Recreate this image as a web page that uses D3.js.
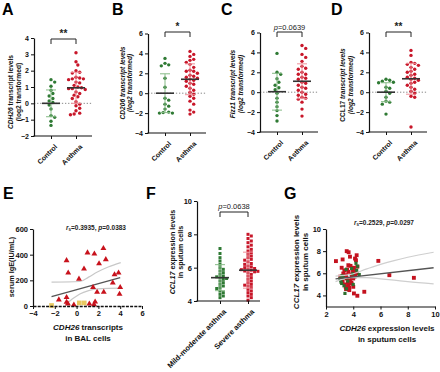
<!DOCTYPE html>
<html><head><meta charset="utf-8">
<script src="https://cdn.jsdelivr.net/npm/d3@7"></script>
<style>body{margin:0;background:#fff}svg{display:block}text{font-family:"Liberation Sans",Arial,sans-serif}</style>
</head><body><svg id="c" width="440" height="372"></svg>
<script>
// ---------- DATA ----------
const groupsAD = ["Control", "Asthma"];
const aControl = [1.45, 1.3, 1.05, 0.8, 0.6, 0.45, 0.3, 0.15, 0.05, -0.1, -0.35, -0.75, -0.85, -1.1, -1.35];
const aAsthma = [3.1, 2.55, 2.35, 2.0, 1.9, 1.85, 1.6, 1.55, 1.5, 1.5, 1.45, 1.3, 1.25, 1.1, 1.0, 0.95, 0.9, 0.9, 0.85, 0.7, 0.6, 0.5, 0.4, 0.3, 0.1, -0.05, -0.15, -0.3, -0.45, -0.6, -0.65, -0.7];
const aMeans = [0, 0.95], aSDs = [0.82, 0.95];
const bControl = [3.5, 3.0, 2.85, 2.75, 1.5, 0.6, -0.5, -0.7, -1.1, -1.3, -1.6, -1.9, -2.0, -2.0, -1.95];
const bAsthma = [4.2, 3.9, 3.7, 3.4, 3.3, 3.1, 2.9, 2.6, 2.3, 2.2, 2.2, 2.0, 1.8, 1.7, 1.6, 1.5, 1.4, 1.3, 1.2, 1.0, 0.9, 0.7, 0.5, 0.3, 0.1, -0.1, -0.3, -0.5, -0.8, -1.1, -1.7, -1.9, -2.1];
const bMeans = [0, 1.4], bSDs = [1.95, 1.55];
const cControl = [3.9, 2.0, 1.8, 1.35, 1.0, 0.7, 0.45, 0.25, -0.1, -0.6, -1.0, -1.45, -1.85, -2.35, -2.9];
const cAsthma = [4.7, 4.4, 3.8, 3.5, 3.1, 2.6, 2.4, 2.3, 2.0, 1.8, 1.8, 1.5, 1.4, 1.3, 1.0, 0.9, 0.7, 0.5, 0.4, 0.2, 0.0, -0.2, -0.3, -0.5, -0.6, -0.7, -1.0, -1.7, -2.4];
const cMeans = [0.05, 1.1], cSDs = [1.85, 1.75];
const dControl = [1.3, 1.2, 1.1, 1.0, 0.95, 0.5, 0.4, 0.1, -0.1, -0.5, -0.9, -1.0, -1.2, -2.2];
const dAsthma = [4.2, 3.7, 3.0, 2.9, 2.8, 2.7, 2.5, 2.3, 2.1, 2.0, 1.8, 1.7, 1.5, 1.4, 1.3, 1.2, 1.0, 0.9, 0.7, 0.5, 0.3, 0.1, -0.1, -0.4, -0.5, -3.5];
const dMeans = [0, 1.35], dSDs = [0.95, 1.55];
const ticksA = [-2, -1, 0, 1, 2, 3, 4];
const ticksBCD = [-4, -2, 0, 2, 4, 6];

const eAsthmaX = [-0.92, -0.77, 1.0, 1.63, 2.46, 2.68, 2.06, 0.68, 0.22, 3.48, 3.85, 3.32, 1.51, 4.0, 1.88, 2.49, 3.94, -1.63, -0.92, -0.92, -0.8, -0.25, 1.17, 1.6, 1.7];
const eAsthmaY = [351, 254, 411, 403, 445, 359, 327, 286, 207, 241, 254, 176, 141, 141, 105, 105, 89, 45, 63, 26, 14, 5, 13, 8, 29];
const eControlX = [-2.3, 0.25, 0.7];
const eControlY = [4, 24, 24];
const eFitX = [-2.3, 4.0], eFitY = [73, 222];
const eUpperX = [-2.3, 0.3, 1.1, 1.9, 2.9, 4.05], eUpperY = [186, 191, 225, 265, 304, 338];
const eLowerX = [-1.0, -0.3, 0.3, 1.1, 1.9, 3.0, 4.05], eLowerY = [12, 60, 94, 120, 134, 138, 139];
const eXTicks = [-4, -2, 0, 2, 4, 6], eYTicks = [0, 200, 400, 600];

const groupsF = ["Mild-moderate asthma", "Severe asthma"];
const fMild = [7.15, 6.85, 6.6, 6.4, 6.2, 6.0, 5.9, 5.8, 5.7, 5.6, 5.5, 5.45, 5.4, 5.35, 5.3, 5.2, 5.1, 5.0, 4.9, 4.8, 4.75, 4.6, 4.5, 4.4, 4.3, 4.2];
const fSevere = [8.0, 7.9, 7.75, 7.6, 7.5, 7.35, 7.25, 7.1, 7.0, 6.9, 6.8, 6.7, 6.6, 6.5, 6.45, 6.35, 6.25, 6.2, 6.1, 6.05, 6.0, 5.95, 5.9, 5.88, 5.85, 5.8, 5.78, 5.75, 5.7, 5.6, 5.5, 5.4, 5.3, 5.2, 5.1, 5.0, 4.95, 4.9, 4.8, 4.7, 4.6, 4.5, 4.4, 4.3, 4.2, 4.05];
const fMeans = [5.4, 5.85], fSDs = [0.78, 1.08];
const fTicks = [4, 6, 8, 10];

const gRedX = [2.73, 3.22, 3.52, 3.66, 3.76, 4.13, 4.25, 4.2, 3.15, 3.64, 3.8, 4.05, 4.3, 3.27, 3.47, 3.64, 3.88, 4.0, 4.13, 4.25, 3.52, 3.76, 4.0, 3.22, 3.39, 3.64, 3.88, 4.0, 3.47, 3.71, 4.05, 4.3, 4.81, 5.84, 6.65, 8.45, 3.35, 3.55, 3.95, 4.1, 3.3, 3.6, 3.9, 3.7, 3.45, 4.15, 3.05, 3.85];
const gRedY = [7.1, 7.25, 8.0, 7.9, 7.5, 7.33, 7.63, 7.18, 6.5, 6.73, 6.67, 6.5, 6.6, 5.98, 5.83, 6.13, 5.9, 6.07, 5.83, 5.98, 5.53, 5.38, 5.53, 5.23, 4.99, 4.93, 5.08, 4.78, 4.57, 4.48, 4.18, 3.97, 4.33, 7.12, 5.83, 5.59, 6.25, 6.35, 6.3, 5.7, 5.65, 5.2, 5.6, 4.7, 4.75, 6.2, 5.7, 5.15];
const gGreenX = [3.27, 3.08, 3.15, 3.32, 3.39, 3.47, 4.25, 4.32, 3.88, 3.03, 3.17, 4.0, 4.44, 3.6, 3.95, 4.2, 3.1, 3.5];
const gGreenY = [5.59, 5.38, 5.08, 4.87, 4.18, 6.34, 6.28, 6.64, 6.43, 5.53, 5.77, 4.99, 5.89, 5.3, 5.95, 6.9, 5.2, 4.6];
const gFitX = [2.7, 9.9], gFitY = [5.5, 6.5];
const gUpperX = [2.7, 3.8, 5, 6, 7, 8, 9.9], gUpperY = [5.75, 5.9, 6.4, 6.8, 7.15, 7.45, 7.9];
const gLowerX = [2.7, 3.8, 5, 6, 7, 8, 9.9], gLowerY = [5.25, 5.6, 5.6, 5.5, 5.38, 5.25, 5.05];
const gXTicks = [2, 4, 6, 8, 10], gYTicks = [4, 6, 8, 10];

// ---------- STYLE ----------
const GREEN = "#2f7a34", RED = "#c8172a", LGREEN = "#86bb86", LRED = "#ee8f98";
const svg = d3.select("#c");
const fmtInt = d3.format("d");

function styleAxis(g, fs) {
  g.select(".domain").attr("stroke", "#111").attr("stroke-width", 1.2);
  g.selectAll(".tick line").attr("stroke", "#111").attr("stroke-width", 1);
  g.selectAll(".tick text").attr("font-size", fs).attr("font-weight", "bold").attr("fill", "#111").attr("font-family", "Liberation Sans, Arial, sans-serif");
}
function title(t, x, y) {
  svg.append("text").attr("x", x).attr("y", y).attr("font-size", 16).attr("font-weight", "bold").text(t);
}
function rotLabel(x, y, parts, fs, weight) {
  const t = svg.append("text").attr("transform", `translate(${x},${y}) rotate(-90)`)
    .attr("text-anchor", "middle").attr("font-size", fs).attr("font-weight", weight || "bold").attr("fill", "#111");
  parts.forEach(p => t.append("tspan").attr("font-style", p[1] ? "italic" : "normal").text(p[0]));
}
function hLabel(x, y, parts, fs) {
  const t = svg.append("text").attr("x", x).attr("y", y).attr("text-anchor", "middle")
    .attr("font-size", fs).attr("font-weight", "bold").attr("fill", "#111");
  parts.forEach(p => t.append("tspan").attr("font-style", p[1] ? "italic" : "normal").text(p[0]));
}
function swarm(vals, y, cx, d) {
  const placed = [];
  const sorted = vals.slice().sort((a, b) => b - a);
  sorted.forEach(v => {
    const py = y(v);
    for (let k = 0; k < 200; k++) {
      const off = k === 0 ? 0 : (k % 2 ? 1 : -1) * Math.ceil(k / 2) * d * 0.5;
      const px = cx + off;
      if (placed.every(p => (p.x - px) ** 2 + (p.y - py) ** 2 >= d * d)) { placed.push({ x: px, y: py }); break; }
    }
  });
  return placed;
}
function columnPanel(cfg) {
  const y = d3.scaleLinear().domain(cfg.domain).range([cfg.yBot, cfg.yTop]);
  const x = d3.scalePoint().domain(cfg.groups).range([cfg.x0 + cfg.p0, cfg.x0 + cfg.p1]);
  const xEnd = cfg.x0 + cfg.w;
  if (cfg.refLine !== undefined) {
    svg.append("line").attr("x1", cfg.x0).attr("x2", xEnd).attr("y1", y(cfg.refLine)).attr("y2", y(cfg.refLine))
      .attr("stroke", "#888").attr("stroke-width", 1).attr("stroke-dasharray", "1.3,1.8");
  }
  cfg.data.forEach((vals, i) => {
    const cx = x(cfg.groups[i]);
    const pts = swarm(vals, y, cx, cfg.d);
    const g = svg.append("g");
    if (cfg.square) {
      g.selectAll("rect").data(pts).join("rect").attr("x", p => p.x - cfg.r).attr("y", p => p.y - cfg.r)
        .attr("width", cfg.r * 2).attr("height", cfg.r * 2).attr("fill", cfg.colors[i]);
    } else {
      g.selectAll("circle").data(pts).join("circle").attr("cx", p => p.x).attr("cy", p => p.y).attr("r", cfg.r).attr("fill", cfg.colors[i]);
    }
    const m = cfg.means[i], s = cfg.sds[i];
    const eb = svg.append("g").attr("stroke", cfg.light[i]).attr("stroke-width", 1);
    eb.append("line").attr("x1", cx).attr("x2", cx).attr("y1", y(m - s)).attr("y2", y(m + s));
    eb.append("line").attr("x1", cx - 5).attr("x2", cx + 5).attr("y1", y(m + s)).attr("y2", y(m + s));
    eb.append("line").attr("x1", cx - 5).attr("x2", cx + 5).attr("y1", y(m - s)).attr("y2", y(m - s));
    svg.append("line").attr("x1", cx - 9).attr("x2", cx + 9).attr("y1", y(m)).attr("y2", y(m))
      .attr("stroke", "#333").attr("stroke-width", 1.6);
  });
  const ya = svg.append("g").attr("transform", `translate(${cfg.x0},0)`)
    .call(d3.axisLeft(y).tickValues(cfg.ticks).tickFormat(fmtInt).tickSize(3).tickSizeOuter(0).tickPadding(2));
  styleAxis(ya, cfg.fs);
  svg.append("line").attr("x1", cfg.x0 - 0.6).attr("x2", xEnd).attr("y1", cfg.yBot).attr("y2", cfg.yBot)
    .attr("stroke", "#111").attr("stroke-width", 1.2);
  const xa = svg.append("g").attr("transform", `translate(0,${cfg.yBot})`)
    .call(d3.axisBottom(x).tickSize(3).tickSizeOuter(0));
  xa.select(".domain").remove();
  styleAxis(xa, cfg.fs);
  xa.selectAll(".tick text").attr("text-anchor", "end").attr("dy", 0).attr("dx", 0)
    .attr("transform", "translate(2,7) rotate(-45)");
  if (cfg.sig) {
    const x1 = x(cfg.groups[0]), x2 = x(cfg.groups[1]), by = cfg.bracketY;
    svg.append("path").attr("d", `M${x1},${by + 5}V${by}H${x2}V${by + 5}`).attr("fill", "none")
      .attr("stroke", "#222").attr("stroke-width", 1);
    const t = svg.append("text").attr("x", (x1 + x2) / 2).attr("y", by - cfg.sigDy).attr("text-anchor", "middle")
      .attr("font-size", cfg.sigFs).attr("font-weight", cfg.sigBold ? "bold" : "normal").attr("fill", "#222");
    if (cfg.sig.startsWith("p")) {
      t.append("tspan").attr("font-style", "italic").text("p");
      t.append("tspan").text(cfg.sig.slice(1));
    } else t.text(cfg.sig);
  }
}

// ---------- PANELS A-D ----------
const adBase = { groups: groupsAD, p0: 17, p1: 42, w: 58, r: 1.7, d: 3.7, fs: 7, colors: [GREEN, RED], light: [LGREEN, LRED], refLine: 0, sigFs: 10, sigDy: 2, sigBold: true };
columnPanel(Object.assign({}, adBase, { x0: 34, yTop: 38, yBot: 136, domain: [-2, 4], ticks: ticksA, data: [aControl, aAsthma], means: aMeans, sds: aSDs, sig: "**", bracketY: 39 }));
columnPanel(Object.assign({}, adBase, { x0: 148, yTop: 33.5, yBot: 133, domain: [-4, 6], ticks: ticksBCD, data: [bControl, bAsthma], means: bMeans, sds: bSDs, sig: "*", bracketY: 32 }));
columnPanel(Object.assign({}, adBase, { x0: 260, yTop: 32.5, yBot: 132, domain: [-4, 6], ticks: ticksBCD, data: [cControl, cAsthma], means: cMeans, sds: cSDs, sig: "p=0.0639", bracketY: 32, sigFs: 7.5, sigBold: false, sigDy: 2.5 }));
columnPanel(Object.assign({}, adBase, { x0: 369, yTop: 32.5, yBot: 132, domain: [-4, 6], ticks: ticksBCD, data: [dControl, dAsthma], means: dMeans, sds: dSDs, sig: "**", bracketY: 32 }));

title("A", 2, 15); title("B", 112, 15); title("C", 221, 15); title("D", 331, 15);
const labFs = 6.6;
rotLabel(13, 92, [["CDH26", true], [" transcript levels", false]], labFs);
rotLabel(20.5, 92, [["(log2 transformed)", false]], labFs);
rotLabel(124.5, 83, [["CD206 transcript levels", true]], labFs);
rotLabel(132, 83, [["(log2 transformed)", true]], labFs);
rotLabel(235, 84, [["Fizz1 transcript levels", true]], labFs);
rotLabel(242.5, 84, [["(log2 transformed)", true]], labFs);
rotLabel(345, 85, [["CCL17", false], [" transcript levels", true]], labFs);
rotLabel(352.5, 85, [["(log2 transformed)", true]], labFs);

// ---------- PANEL E ----------
{
  const x = d3.scaleLinear().domain([-4, 6]).range([33, 142]);
  const y = d3.scaleLinear().domain([0, 600]).range([306, 229]);
  const line = d3.line().x(d => x(d[0])).y(d => y(d[1])).curve(d3.curveMonotoneX);
  svg.append("path").attr("d", line(d3.zip(eUpperX, eUpperY))).attr("fill", "none").attr("stroke", "#c8c8c8").attr("stroke-width", 1.2);
  svg.append("path").attr("d", line(d3.zip(eLowerX, eLowerY))).attr("fill", "none").attr("stroke", "#c8c8c8").attr("stroke-width", 1.2);
  svg.append("path").attr("d", line(d3.zip(eFitX, eFitY))).attr("fill", "none").attr("stroke", "#555").attr("stroke-width", 1.3);
  const tri = d3.symbol().type(d3.symbolTriangle).size(15);
  svg.append("g").selectAll("path").data(d3.zip(eAsthmaX, eAsthmaY)).join("path")
    .attr("transform", d => `translate(${x(d[0])},${y(d[1]) - 0.5})`).attr("d", tri).attr("fill", "#c8121c");
  const sq = d3.symbol().type(d3.symbolSquare).size(22);
  svg.append("g").selectAll("path").data(d3.zip(eControlX, eControlY)).join("path")
    .attr("transform", d => `translate(${x(d[0])},${y(d[1])})`).attr("d", sq).attr("fill", "#e8c861");
  const ya = svg.append("g").attr("transform", "translate(33,0)").call(d3.axisLeft(y).tickValues(eYTicks).tickFormat(fmtInt).tickSize(3).tickSizeOuter(0).tickPadding(2));
  styleAxis(ya, 7.5);
  const xa = svg.append("g").attr("transform", "translate(0,306)").call(d3.axisBottom(x).tickValues(eXTicks).tickFormat(fmtInt).tickSize(3).tickSizeOuter(0).tickPadding(2));
  styleAxis(xa, 7.5);
  xa.select(".domain").attr("stroke-dasharray", "3,1.2").attr("stroke-width", 1.6);
  const t = svg.append("text").attr("x", 96).attr("y", 229.5).attr("text-anchor", "middle").attr("font-size", 6.5).attr("font-weight", "bold").attr("fill", "#222");
  t.append("tspan").attr("font-style", "italic").text("r");
  t.append("tspan").attr("font-size", 4.5).attr("dy", 1.5).text("s");
  t.append("tspan").attr("dy", -1.5).text("=0.3935, ");
  t.append("tspan").attr("font-style", "italic").text("p");
  t.append("tspan").text("=0.0383");
  title("E", 3, 199);
  rotLabel(14, 267, [["serum IgE(IU/mL)", false]], 7.3);
  hLabel(88, 330, [["CDH26", true], [" transcripts", false]], 8);
  hLabel(88, 341, [["in BAL cells", false]], 8);
}

// ---------- PANEL F ----------
columnPanel({ groups: groupsF, x0: 197, p0: 23, p1: 51, w: 63, yTop: 201, yBot: 301, domain: [4, 10], ticks: fTicks,
  data: [fMild, fSevere], means: fMeans, sds: fSDs, r: 1.5, d: 3.3, square: true, fs: 7.5, colors: [GREEN, RED], light: [LGREEN, LRED],
  sig: "p=0.0638", bracketY: 212, sigFs: 7.5, sigBold: false, sigDy: 3 });
title("F", 146, 199);
rotLabel(175, 252, [["CCL17", true], [" expression levels", false]], 7.2, "600");
rotLabel(183, 252, [["in sputum cells", false]], 7.2, "600");

// ---------- PANEL G ----------
{
  const x = d3.scaleLinear().domain([2, 10]).range([326, 435]);
  const y = d3.scaleLinear().domain([3, 10]).range([306.5, 229]);
  const line = d3.line().x(d => x(d[0])).y(d => y(d[1])).curve(d3.curveMonotoneX);
  const sqR = d3.symbol().type(d3.symbolSquare).size(15);
  const sqG = d3.symbol().type(d3.symbolSquare).size(10);
  svg.append("g").selectAll("path").data(d3.zip(gRedX, gRedY)).join("path")
    .attr("transform", d => `translate(${x(d[0])},${y(d[1])})`).attr("d", sqR).attr("fill", "#c4121f");
  svg.append("g").selectAll("path").data(d3.zip(gGreenX, gGreenY)).join("path")
    .attr("transform", d => `translate(${x(d[0])},${y(d[1])})`).attr("d", sqG).attr("fill", "#2c6e2e");
  svg.append("path").attr("d", line(d3.zip(gUpperX, gUpperY))).attr("fill", "none").attr("stroke", "#cfcfcf").attr("stroke-width", 1.2);
  svg.append("path").attr("d", line(d3.zip(gLowerX, gLowerY))).attr("fill", "none").attr("stroke", "#cfcfcf").attr("stroke-width", 1.2);
  svg.append("path").attr("d", line(d3.zip(gFitX, gFitY))).attr("fill", "none").attr("stroke", "#555").attr("stroke-width", 1.3);
  const ya = svg.append("g").attr("transform", "translate(326,0)").call(d3.axisLeft(y).tickValues(gYTicks).tickFormat(fmtInt).tickSize(3).tickSizeOuter(0).tickPadding(2));
  styleAxis(ya, 7.5);
  const xa = svg.append("g").attr("transform", "translate(0,306.5)").call(d3.axisBottom(x).tickValues(gXTicks).tickFormat(fmtInt).tickSize(3).tickSizeOuter(0).tickPadding(2));
  styleAxis(xa, 7.5);
  const t = svg.append("text").attr("x", 384).attr("y", 224.5).attr("text-anchor", "middle").attr("font-size", 6.5).attr("font-weight", "bold").attr("fill", "#222");
  t.append("tspan").attr("font-style", "italic").text("r");
  t.append("tspan").attr("font-size", 4.5).attr("dy", 1.5).text("s");
  t.append("tspan").attr("dy", -1.5).text("=0.2529, ");
  t.append("tspan").attr("font-style", "italic").text("p");
  t.append("tspan").text("=0.0297");
  title("G", 284, 199);
  rotLabel(299, 262, [["CCL17", true], [" expression levels", false]], 8);
  rotLabel(307.5, 262, [["in sputum cells", false]], 8);
  hLabel(387, 331, [["CDH26", true], [" expression levels", false]], 8);
  hLabel(387, 341.5, [["in sputum cells", false]], 8);
}
</script></body></html>
